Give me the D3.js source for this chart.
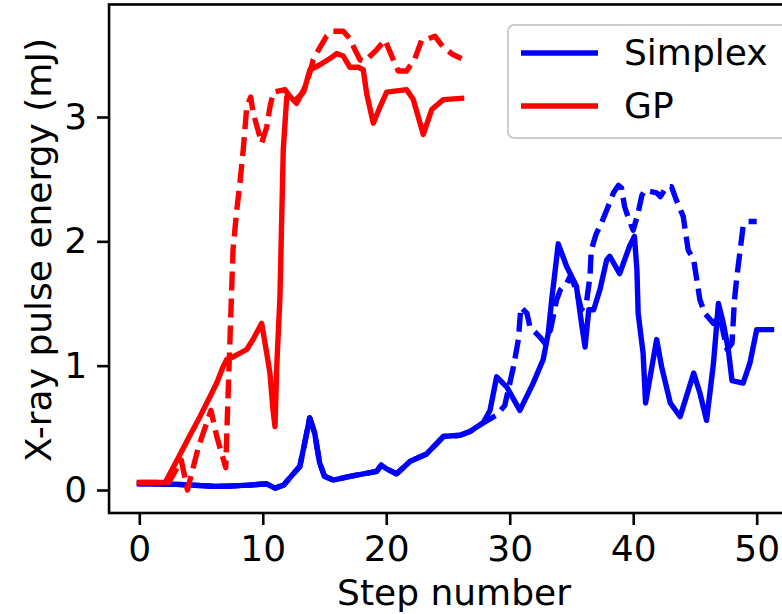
<!DOCTYPE html>
<html>
<head>
<meta charset="utf-8">
<script src="https://cdn.jsdelivr.net/npm/d3@7"></script>
<style>
  html, body { margin: 0; padding: 0; background: #fff; }
  svg { display: block; }
  text { font-family: "DejaVu Sans", sans-serif; fill: #000; }
</style>
</head>
<body>
<svg id="chart" width="782" height="614"></svg>
<script>
// ---- data (step number, X-ray pulse energy in mJ) ----
const simplexSolid = [
  [0,0.05],[1,0.05],[2,0.045],[3,0.045],[4.1,0.04],[5,0.035],[6,0.03],[7.1,0.03],[8,0.035],[9,0.04],
  [10.3,0.05],[11.0,0.015],[11.7,0.04],[12.3,0.11],[13.0,0.19],[13.4,0.38],[13.8,0.58],[14.2,0.46],
  [14.6,0.22],[15.0,0.11],[15.7,0.08],[17.06,0.11],[19.22,0.15],[19.6,0.2],[20.03,0.17],[20.84,0.13],
  [21.92,0.23],[23.27,0.29],[24.62,0.43],[25.97,0.44],[26.78,0.47],[27.85,0.54],[28.4,0.64],
  [28.94,0.91],[29.75,0.83],[30.82,0.64],[31.9,0.86],[32.71,1.05],[33.12,1.26],[33.4,1.53],[33.93,1.98],
  [34.6,1.80],[35.4,1.64],[35.8,1.35],[36.1,1.15],[36.4,1.45],[36.8,1.45],[37.3,1.61],[37.85,1.85],
  [38.1,1.88],[38.9,1.74],[39.7,1.96],[40.1,2.04],[40.3,1.77],[40.4,1.42],[40.8,1.10],[41.0,0.70],
  [41.9,1.21],[42.3,0.99],[43.0,0.70],[43.8,0.59],[44.9,0.94],[45.4,0.78],[45.94,0.56],[46.5,1.02],
  [46.9,1.50],[47.3,1.34],[47.7,1.13],[48.0,0.88],[48.9,0.86],[49.45,1.02],[50.0,1.29],[51.2,1.29]
];
const simplexDashed = [
  [0,0.05],[1,0.05],[2,0.045],[3,0.045],[4.1,0.04],[5,0.035],[6,0.03],[7.1,0.03],[8,0.035],[9,0.04],
  [10.3,0.05],[11.0,0.015],[11.7,0.04],[12.3,0.11],[13.0,0.19],[13.4,0.38],[13.8,0.58],[14.2,0.46],
  [14.6,0.22],[15.0,0.11],[15.7,0.08],[17.06,0.11],[19.22,0.15],[19.6,0.2],[20.03,0.17],[20.84,0.13],
  [21.92,0.23],[23.27,0.29],[24.62,0.43],[25.97,0.44],[26.78,0.47],[27.85,0.54],
  [28.9,0.6],[29.6,0.68],[30.3,0.99],[30.7,1.21],[30.9,1.47],[31.4,1.42],[31.64,1.31],[32.45,1.23],
  [32.85,1.18],[33.3,1.29],[33.8,1.53],[34.1,1.61],[34.6,1.66],[34.9,1.72],[35.4,1.61],[35.8,1.45],
  [36.2,1.5],[36.5,1.72],[36.6,1.93],[37.0,2.06],[37.4,2.14],[37.85,2.25],[38.4,2.39],[38.8,2.45],
  [39.05,2.43],[39.3,2.28],[39.6,2.19],[40.0,2.09],[40.4,2.23],[40.7,2.37],[40.95,2.41],[41.9,2.39],
  [42.2,2.36],[42.7,2.44],[43.1,2.44],[43.5,2.33],[44.05,2.2],[44.45,1.93],[44.9,1.85],[45.1,1.72],
  [45.4,1.53],[45.8,1.42],[46.5,1.34],[47.0,1.4],[47.6,1.13],[48.0,1.18],[48.2,1.53],[48.4,1.72],
  [48.6,1.88],[48.9,2.12],[49.3,2.16],[50.0,2.16]
];
const gpSolid = [
  [0,0.06],[1,0.06],[2.1,0.06],[3.0,0.23],[4.0,0.42],[4.91,0.59],[5.72,0.75],[6.27,0.86],[6.78,0.99],
  [7.08,1.05],[7.59,1.07],[8.7,1.13],[9.21,1.21],[9.91,1.34],[10.32,1.10],[10.58,0.94],[10.83,0.64],
  [10.99,0.51],[11.13,0.99],[11.39,1.55],[11.53,2.17],[11.66,2.74],[11.94,3.16],[12.06,3.18],
  [12.74,3.11],[13.0,3.16],[13.42,3.24],[13.82,3.38],[14.63,3.42],[15.44,3.47],[15.98,3.51],
  [16.52,3.49],[17.06,3.40],[17.73,3.40],[18.14,3.38],[18.41,3.19],[18.95,2.95],[19.49,3.08],
  [20.03,3.20],[21.65,3.22],[22.19,3.14],[23.0,2.86],[23.68,3.06],[24.62,3.14],[26.1,3.15]
];
const gpDashed = [
  [0,0.06],[2.4,0.06],[3.4,0.24],[3.9,0.0],[4.8,0.35],[5.8,0.64],[6.3,0.42],[7.0,0.18],[7.1,0.5],
  [7.59,1.93],[7.89,2.25],[8.15,2.47],[8.42,2.74],[8.70,3.08],[9.02,3.16],[9.23,3.03],[9.91,2.79],
  [10.32,2.92],[10.58,3.08],[10.85,3.20],[11.8,3.22],[12.5,3.12],[13.3,3.2],[13.82,3.36],[14.09,3.46],
  [14.63,3.56],[15.17,3.65],[15.71,3.69],[16.52,3.69],[17.06,3.63],[17.47,3.54],[17.87,3.46],
  [18.28,3.45],[19.22,3.54],[19.9,3.62],[20.57,3.46],[20.97,3.37],[21.65,3.37],[22.32,3.47],
  [22.87,3.62],[23.4,3.63],[23.94,3.65],[24.62,3.56],[25.43,3.50],[26.1,3.47]
];
const xTicks = [0, 10, 20, 30, 40, 50];
const yTicks = [0, 1, 2, 3];
const legendLabels = ["Simplex", "GP"];
const seriesColors = ["#0000ff", "#ff0000"];
const xLabel = "Step number";
const yLabel = "X-ray pulse energy (mJ)";

// ---- layout ----
const svg = d3.select("#chart");
const FS = 36;
const LW = 5.4;
const x = d3.scaleLinear().domain([0, 50]).range([139.3, 756.7]);
const y = d3.scaleLinear().domain([0, 3]).range([490, 117]);
const xMin = -2.45, xMax = 53.7, yMin = -0.185, yMax = 3.905;
const L = x(xMin), R = x(xMax), T = y(yMax), B = y(yMin);

svg.append("rect").attr("width", 782).attr("height", 614).attr("fill", "#fff");

svg.append("defs").append("clipPath").attr("id", "plotclip")
  .append("rect").attr("x", L).attr("y", T).attr("width", R - L).attr("height", B - T);

const line = d3.line().x(d => x(d[0])).y(d => y(d[1]));
const plot = svg.append("g").attr("clip-path", "url(#plotclip)");

const series = [
  { data: simplexSolid, color: seriesColors[0], dash: null },
  { data: simplexDashed, color: seriesColors[0], dash: "19,8" },
  { data: gpSolid, color: seriesColors[1], dash: null },
  { data: gpDashed, color: seriesColors[1], dash: "19,8" }
];
series.forEach(s => {
  plot.append("path")
    .attr("d", line(s.data))
    .attr("fill", "none")
    .attr("stroke", s.color)
    .attr("stroke-width", LW)
    .attr("stroke-linejoin", "round")
    .attr("stroke-linecap", s.dash ? "butt" : "square")
    .attr("stroke-dasharray", s.dash);
});

// ---- axes ----
const fmt = d3.format("d");
const xAxis = d3.axisBottom(x).tickValues(xTicks).tickFormat(fmt).tickSize(12).tickPadding(10).tickSizeOuter(0);
const gx = svg.append("g").attr("transform", `translate(0,${B})`).call(xAxis);
gx.select(".domain").remove();
gx.selectAll(".tick line").attr("stroke", "#000").attr("stroke-width", 2.6);
gx.selectAll(".tick text").attr("font-size", FS).attr("font-family", "DejaVu Sans").attr("fill", "#000");

const yAxis = d3.axisLeft(y).tickValues(yTicks).tickFormat(fmt).tickSize(12).tickPadding(10).tickSizeOuter(0);
const gy = svg.append("g").attr("transform", `translate(${L},0)`).call(yAxis);
gy.select(".domain").remove();
gy.selectAll(".tick line").attr("stroke", "#000").attr("stroke-width", 2.6);
gy.selectAll(".tick text").attr("font-size", FS).attr("font-family", "DejaVu Sans").attr("fill", "#000");

// frame (spines)
svg.append("rect").attr("x", L).attr("y", T).attr("width", R - L).attr("height", B - T)
  .attr("fill", "none").attr("stroke", "#000").attr("stroke-width", 2.6);

// axis labels
svg.append("text").attr("x", 454).attr("y", 605).attr("text-anchor", "middle")
  .attr("font-size", FS).text(xLabel);
svg.append("text").attr("transform", `translate(51,250) rotate(-90)`)
  .attr("text-anchor", "middle").attr("font-size", FS).text(yLabel);

// ---- legend ----
const lg = svg.append("g");
lg.append("rect").attr("x", 508).attr("y", 25).attr("width", 290).attr("height", 113)
  .attr("rx", 6).attr("fill", "#fff").attr("fill-opacity", 0.8)
  .attr("stroke", "#cccccc").attr("stroke-width", 2);
legendLabels.forEach((lab, i) => {
  const cy = 53 + i * 53;
  lg.append("line").attr("x1", 521).attr("x2", 598).attr("y1", cy).attr("y2", cy)
    .attr("stroke", seriesColors[i]).attr("stroke-width", LW).attr("stroke-linecap", "butt");
  lg.append("text").attr("x", 624).attr("y", cy + 12).attr("font-size", FS).text(lab);
});
</script>
</body>
</html>
